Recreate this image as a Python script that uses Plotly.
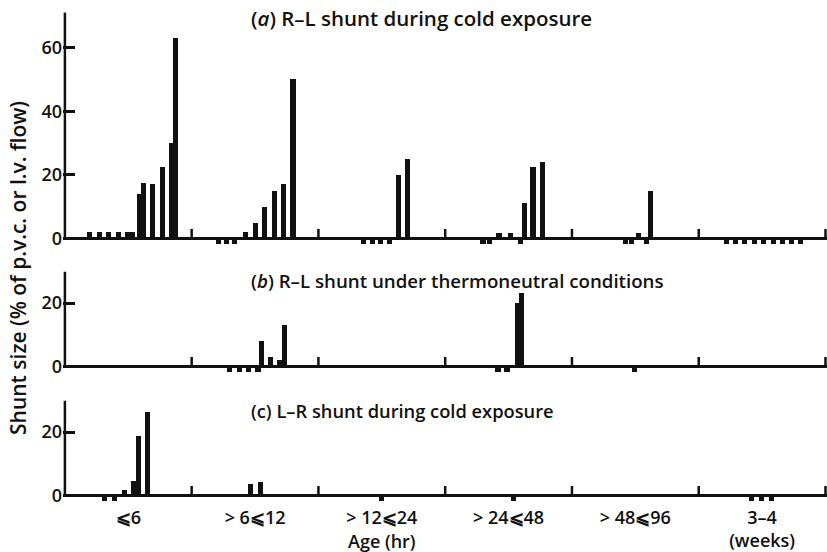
import plotly.graph_objects as go

# ---------------- data ----------------
GROUP_LABELS = ["⩽6", "> 6⩽12", "> 12⩽24", "> 24⩽48", "> 48⩽96", "3–4<br>(weeks)"]
GROUP_BOUNDS = [1, 2, 3, 4, 5, 6]

PANEL_TITLES = [
    "(<i>a</i>) R–L shunt during cold exposure",
    "(<i>b</i>) R–L shunt under thermoneutral conditions",
    "(c) L–R shunt during cold exposure",
]

# bar positions (in age-group units, group k spans k..k+1) and shunt sizes (%)
a_x = [0.197, 0.270, 0.347, 0.424, 0.494, 0.534, 0.588, 0.619, 0.694, 0.770, 0.841, 0.873,
       1.209, 1.275, 1.341, 1.427, 1.501, 1.577, 1.651, 1.727, 1.800,
       2.358, 2.425, 2.492, 2.558, 2.629, 2.703,
       3.299, 3.352, 3.425, 3.517, 3.596, 3.628, 3.693, 3.767,
       4.424, 4.470, 4.522, 4.587, 4.621,
       5.221, 5.292, 5.363, 5.442, 5.513, 5.592, 5.663, 5.734, 5.804]
a_y = [2, 2, 2, 2, 2, 2, 14, 17.5, 17, 22.5, 30, 63,
       -1.8, -1.8, -1.8, 2, 5, 10, 15, 17, 50,
       -1.8, -1.8, -1.8, -1.8, 20, 25,
       -1.8, -1.8, 1.7, 1.7, -1.8, 11, 22.5, 24,
       -1.8, -1.8, 1.7, -1.8, 15,
       -1.8, -1.8, -1.8, -1.8, -1.8, -1.8, -1.8, -1.8, -1.8]

b_x = [1.301, 1.380, 1.446, 1.524, 1.551, 1.622, 1.696, 1.735,
       3.417, 3.488, 3.575, 3.602,
       4.495]
b_y = [-1.8, -1.8, -1.8, -1.8, 8, 3, 2, 13,
       -1.8, -1.8, 20, 23,
       -1.8]

c_x = [0.315, 0.394, 0.473, 0.544, 0.578, 0.649,
       1.464, 1.546,
       2.498, 3.536,
       5.416, 5.495, 5.574]
c_y = [-1.8, -1.8, 1.5, 4.3, 18.5, 26.3,
       3.4, 4.2,
       -1.8, -1.8,
       -1.8, -1.8, -1.8]

A_TICKS = [0, 20, 40, 60]
BC_TICKS = [0, 20]

# ---------------- layout geometry ----------------
W, H = 827, 552
ML, MR, MT, MB = 63, 0, 11, 47
PW, PH = W - ML - MR, H - MT - MB
FONT = "Open Sans"
BLACK = "#111111"
WT = 600


def px_x(px):
    return (px - ML) / PW


def px_y(py):
    return 1 - (py - MT) / PH


panels = [
    dict(x=a_x, y=a_y, yr=[-3, 71.5], top=71, dom=[0.5202, 1.0], ticks=A_TICKS),
    dict(x=b_x, y=b_y, yr=[-3, 30], top=30, dom=[0.2611, 0.4729], ticks=BC_TICKS),
    dict(x=c_x, y=c_y, yr=[-3, 30], top=30, dom=[0.0, 0.2117], ticks=BC_TICKS),
]

fig = go.Figure()
shapes = []
layout = {}
for i, p in enumerate(panels):
    n = "" if i == 0 else str(i + 1)
    fig.add_trace(go.Bar(
        x=p["x"], y=p["y"], width=0.041,
        marker=dict(color=BLACK, line=dict(width=0)),
        xaxis="x" + n, yaxis="y" + n, showlegend=False,
    ))
    layout["xaxis" + n] = dict(
        domain=[0, 1], range=[-0.015, 6.012], anchor="y" + n,
        showgrid=False, zeroline=False, showline=False, automargin=False,
        tickvals=[k + 0.5 for k in range(6)], ticktext=GROUP_LABELS,
        showticklabels=(i == 2), ticks="",
        tickfont=dict(family=FONT, size=18, color=BLACK, weight=WT),
    )
    layout["yaxis" + n] = dict(
        domain=p["dom"], range=p["yr"], anchor="x" + n, automargin=False,
        showgrid=False, showline=False,
        zeroline=True, zerolinecolor=BLACK, zerolinewidth=3,
        tickvals=p["ticks"], ticks="inside", ticklen=12, tickwidth=2.5, tickcolor=BLACK,
        tickfont=dict(family=FONT, size=18, color=BLACK, weight=WT),
    )
    # y axis spine from zero to top
    shapes.append(dict(type="line", xref="x" + n, yref="y" + n, x0=0, x1=0,
                       y0=0, y1=p["top"], line=dict(color=BLACK, width=2.5)))
    # age-group divider ticks
    for b in GROUP_BOUNDS:
        shapes.append(dict(type="line", xref="x" + n, yref="y" + n, x0=b, x1=b,
                           y0=0, y1=3, line=dict(color=BLACK, width=2.5)))

annotations = []
for title, ypx, fs in zip(PANEL_TITLES, [18, 280, 410], [20.5, 18.7, 18.3]):
    annotations.append(dict(text=title, xref="paper", yref="paper", x=px_x(249), y=px_y(ypx),
                            xanchor="left", yanchor="middle", showarrow=False,
                            font=dict(family=FONT, size=fs, color=BLACK, weight=WT)))
annotations.append(dict(text="Shunt size (% of p.v.c. or l.v. flow)", xref="paper", yref="paper",
                        x=px_x(18), y=px_y(268), textangle=-90, showarrow=False,
                        xanchor="center", yanchor="middle",
                        font=dict(family=FONT, size=21, color=BLACK, weight=WT)))
annotations.append(dict(text="Age (hr)", xref="paper", yref="paper",
                        x=px_x(382), y=px_y(541), showarrow=False,
                        xanchor="center", yanchor="middle",
                        font=dict(family=FONT, size=18, color=BLACK, weight=WT)))

fig.update_layout(
    width=W, height=H,
    margin=dict(l=ML, r=MR, t=MT, b=MB, autoexpand=False),
    paper_bgcolor="white", plot_bgcolor="white",
    barmode="overlay", bargap=0,
    shapes=shapes, annotations=annotations,
    font=dict(family=FONT, color=BLACK),
    **layout,
)

fig.write_html("out.html")
